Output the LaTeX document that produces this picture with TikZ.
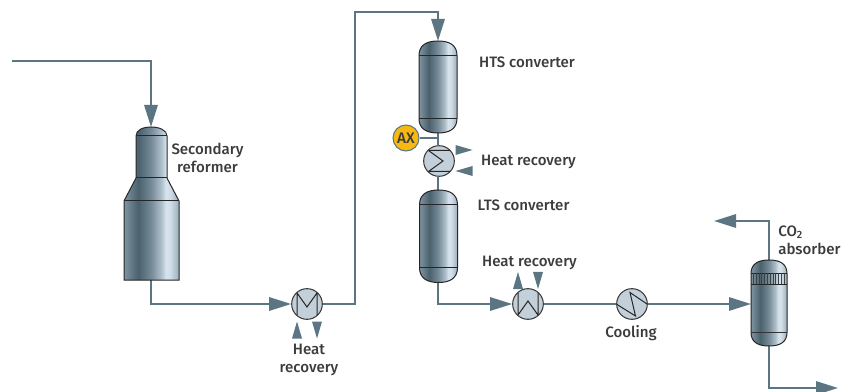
\documentclass[tikz,border=0pt]{standalone}
\usepackage{fontspec}
\setmainfont{Fira Sans}[BoldFont={Fira Sans Medium}]
\usetikzlibrary{arrows.meta}
\definecolor{pipe}{HTML}{5B7583}
\definecolor{hxfill}{HTML}{C3D0D9}
\definecolor{ink}{HTML}{3C3C3C}
\definecolor{axfill}{HTML}{F7B90F}
\pgfdeclarehorizontalshading{vesselshade}{100bp}{
  rgb(0bp)=(0.50,0.58,0.63);
  rgb(25bp)=(0.50,0.58,0.63);
  rgb(38bp)=(0.29,0.38,0.43);
  rgb(50bp)=(0.47,0.55,0.60);
  rgb(59bp)=(0.68,0.75,0.79);
  rgb(63bp)=(0.84,0.89,0.93);
  rgb(67bp)=(0.82,0.87,0.91);
  rgb(75bp)=(0.60,0.68,0.73);
  rgb(100bp)=(0.60,0.68,0.73)}
\tikzset{
  x=0.75pt,y=-0.75pt,
  pipeline/.style={draw=pipe,line width=1.6pt,line join=miter},
  flow/.style={pipeline,-{Triangle[length=16.5pt,width=10pt]}},
  hx/.style={circle,draw=ink,line width=0.8pt,fill=hxfill,minimum size=23pt,inner sep=0pt},
  hxline/.style={draw=black!85,line width=0.75pt},
  vesselbody/.style={shading=vesselshade,draw=black!85,line width=0.75pt},
  seam/.style={draw=black!85,line width=0.75pt},
  label/.style={text=ink,font=\fontsize{11.3}{13.5}\selectfont\bfseries,align=center,inner sep=0pt},
  utility/.style={fill=pipe}
}
\newcommand{\drum}[5]{%
  \path[vesselbody] (#1-#2,#4) .. controls (#1-#2,#4-#3*0.72) and (#1-#2*0.6,#4-#3) .. (#1,#4-#3)
    .. controls (#1+#2*0.6,#4-#3) and (#1+#2,#4-#3*0.72) .. (#1+#2,#4)
    -- (#1+#2,#5) .. controls (#1+#2,#5+#3*0.72) and (#1+#2*0.6,#5+#3) .. (#1,#5+#3)
    .. controls (#1-#2*0.6,#5+#3) and (#1-#2,#5+#3*0.72) .. (#1-#2,#5) -- cycle;
  \draw[seam] (#1-#2,#4) -- (#1+#2,#4);
  \draw[seam] (#1-#2,#5) -- (#1+#2,#5);
}
\newcommand{\tridown}[2]{\fill[utility] (#1-5,#2-8.5) -- (#1+5,#2-8.5) -- (#1,#2+8.5) -- cycle;}
\newcommand{\triup}[2]{\fill[utility] (#1-5,#2+8.5) -- (#1+5,#2+8.5) -- (#1,#2-8.5) -- cycle;}
\newcommand{\triright}[2]{\fill[utility] (#1-8.5,#2-5) -- (#1-8.5,#2+5) -- (#1+8.5,#2) -- cycle;}
\newcommand{\trileft}[2]{\fill[utility] (#1+8.5,#2-5) -- (#1+8.5,#2+5) -- (#1-8.5,#2) -- cycle;}
\begin{document}
\begin{tikzpicture}
\useasboundingbox (0,0) rectangle (843,392);
% named points
\coordinate (feed) at (12,61);
\coordinate (reftop) at (151,127);
\coordinate (refbot) at (151,280);
\coordinate (htstop) at (438,41);
\coordinate (htsbot) at (438,133);
\coordinate (ltstop) at (438,190);
\coordinate (ltsbot) at (438,282);
\coordinate (absin) at (751,304);
\coordinate (abstop) at (769,260);
\coordinate (absbot) at (769,346);
\coordinate (gasout) at (714,221);
\coordinate (liqout) at (838,388);
% exchangers
\node[hx] (hxa) at (307,304) {};
\node[hx] (hxb) at (439,161) {};
\node[hx] (hxc) at (528,304) {};
\node[hx] (hxd) at (632,304) {};
\node[circle,draw=pipe,line width=0.8pt,fill=axfill,minimum size=19.5pt,inner sep=0pt,text=ink,font=\fontsize{11.5}{12}\selectfont\bfseries] (ax) at (406,138) {AX};
% pipes
\draw[flow] (feed) -| (reftop);
\draw[flow] (refbot) |- (hxa.west);
\draw[flow] (hxa.east) -- (355,304) -- (355,12) -| (htstop);
\draw[pipeline] (htsbot) -- (438,146);
\draw[pipeline] (ax.east) -- (438,138);
\draw[pipeline] (438,176) -- (ltstop);
\draw[flow] (ltsbot) |- (hxc.west);
\draw[pipeline] (hxc.east) -- (hxd.west);
\draw[flow] (hxd.east) -- (absin);
\draw[flow] (abstop) |- (gasout);
\draw[flow] (absbot) |- (liqout);
% reformer
\path[vesselbody] (124,280) -- (124,201) -- (136,178) -- (136,136)
  .. controls (136,130) and (143,127) .. (151,127)
  .. controls (159,127) and (167,130) .. (167,136)
  -- (167,178) -- (179,201) -- (179,280) -- cycle;
\draw[seam] (136,136) -- (167,136);
\draw[seam] (136,178) -- (167,178);
\draw[seam] (124,201) -- (179,201);
% drums
\drum{438}{19}{14.5}{55.5}{118.5}
\drum{438.5}{19}{15}{205}{267.5}
\drum{769}{18}{13.5}{273.5}{332.5}
\draw[black!80,line width=1.3pt] (751,332.5) -- (787,332.5);
\draw[seam] (751,284) -- (787,284);
\foreach \i in {0,...,11} \draw[black!75,line width=0.7pt] (753.5+\i*2.8,273.5) -- (753.5+\i*2.8,284);
% exchanger internals
\draw[hxline] (297,293) -- (297,315) (317,293) -- (317,315) (297,293) -- (307,307) -- (317,293);
\draw[hxline] (428.5,150.5) -- (450,150.5) (428.5,171.5) -- (450,171.5) (428.5,150.5) -- (443,161) -- (428.5,171.5);
\draw[hxline] (518,293) -- (518,315) (538,293) -- (538,315) (518,315) -- (528,301) -- (538,315);
\draw[hxline] (617,304.5) -- (635.5,316) -- (630,292.5) -- (647,304);
% utility arrows
\triup{297}{330} \tridown{317}{330}
\triright{464}{150} \trileft{464}{171}
\triup{518}{280.5} \tridown{538}{280.5}
% labels
\node[label] (l1) at (207.5,158) {Secondary\\reformer};
\node[label] (l2) at (527,62) {HTS converter};
\node[label] (l3) at (528.5,161.5) {Heat recovery};
\node[label] (l4) at (523.5,205) {LTS converter};
\node[label] (l5) at (529.5,262.5) {Heat recovery};
\node[label] (l6) at (631,333.5) {Cooling};
\node[label] (l7) at (309,360) {Heat\\recovery};
\node[label,align=left,anchor=west] (l8) at (778,240) {CO\textsubscript{2}\\absorber};
\end{tikzpicture}
\end{document}
